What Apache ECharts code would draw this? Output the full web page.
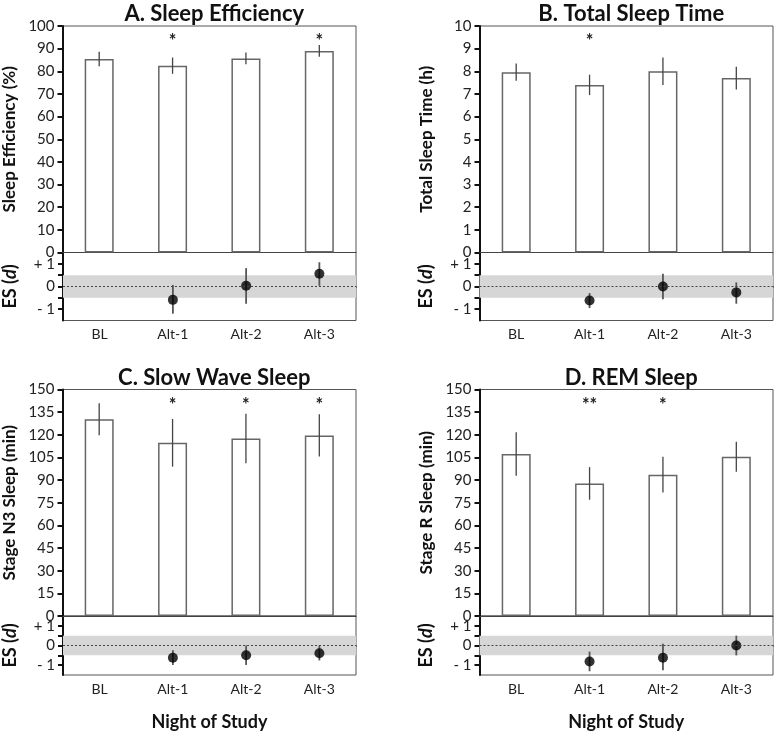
<!DOCTYPE html>
<html><head><meta charset="utf-8">
<script src="https://cdn.jsdelivr.net/npm/echarts@6/dist/echarts.min.js"></script>
<style>html,body{margin:0;padding:0;background:#fff;}#c{width:775px;height:732px;}</style>
</head><body><div id="c"></div>
<script>
const categories = ['BL', 'Alt-1', 'Alt-2', 'Alt-3'];

const titles = ['A. Sleep Efficiency', 'B. Total Sleep Time', 'C. Slow Wave Sleep', 'D. REM Sleep'];
const yTitles = ['Sleep Efficiency (%)', 'Total Sleep Time (h)', 'Stage N3 Sleep (min)', 'Stage R Sleep (min)'];
const yMax = [100, 10, 150, 150];
const yStep = [10, 1, 15, 15];

// means and error (half-length) of bars
const meanA = [85.4, 82.5, 85.7, 89.0];
const errA  = [3.2, 3.6, 2.6, 2.6];
const meanB = [7.96, 7.40, 8.00, 7.70];
const errB  = [0.38, 0.45, 0.61, 0.50];
const meanC = [130.3, 114.7, 117.6, 119.6];
const errC  = [10.6, 15.8, 16.4, 14.0];
const meanD = [107.3, 87.8, 93.6, 105.5];
const errD  = [14.4, 10.8, 11.8, 9.9];

// significance markers
const sigA = ['', '*', '', '*'];
const sigB = ['', '*', '', ''];
const sigC = ['', '*', '*', '*'];
const sigD = ['', '**', '*', ''];

// effect sizes (null = none), lower / upper CI ends
const esA = [null, -0.59, 0.03, 0.56];
const esLoA = [null, -1.20, -0.76, 0.03];
const esHiA = [null, 0.07, 0.81, 1.07];
const esB = [null, -0.62, 0.00, -0.26];
const esLoB = [null, -0.95, -0.56, -0.76];
const esHiB = [null, -0.29, 0.56, 0.18];
const esC = [null, -0.62, -0.50, -0.39];
const esLoC = [null, -0.99, -0.99, -0.76];
const esHiC = [null, -0.24, 0.00, 0.00];
const esD = [null, -0.81, -0.62, 0.00];
const esLoD = [null, -1.31, -1.26, -0.50];
const esHiD = [null, -0.31, 0.09, 0.50];

const means = [meanA, meanB, meanC, meanD];
const errs = [errA, errB, errC, errD];
const sigs = [sigA, sigB, sigC, sigD];
const ess = [esA, esB, esC, esD];
const esLos = [esLoA, esLoB, esLoC, esLoD];
const esHis = [esHiA, esHiB, esHiC, esHiD];

const FONT = 'Lato, "Open Sans", sans-serif';
const lefts = [62.5, 479.5, 62.5, 479.5];
const width = 293.5;
const mainTops = [26, 26, 389.5, 389.5];
const mainH = 226.5;
const esH = 68;

const chart = echarts.init(document.getElementById('c'), null, {renderer: 'canvas'});
const grid = [], xAxis = [], yAxis = [], series = [], title = [];

for (let p = 0; p < 4; p++) {
  const gi = p * 2, ei = p * 2 + 1;
  grid.push({left: lefts[p], top: mainTops[p], width: width, height: mainH, show: true, borderColor: '#555', borderWidth: 1, backgroundColor: 'transparent'});
  grid.push({left: lefts[p], top: mainTops[p] + mainH, width: width, height: esH, show: true, borderColor: '#555', borderWidth: 1, backgroundColor: 'transparent'});
  title.push({text: titles[p], left: lefts[p] + width / 2, top: mainTops[p] - 28, textAlign: 'center',
    textStyle: {fontFamily: FONT, fontWeight: 'bold', fontSize: 22, color: '#111'}});
  xAxis.push({type: 'category', gridIndex: gi, data: categories, axisLine: {show: true, lineStyle: {color: '#444', width: 1.2}},
    axisTick: {show: false}, axisLabel: {show: false}, splitLine: {show: false}});
  xAxis.push({type: 'category', gridIndex: ei, data: categories, axisLine: {show: true, lineStyle: {color: '#111', width: 1.5}},
    axisTick: {show: false}, axisLabel: {show: true, fontFamily: FONT, fontSize: 14, color: '#222', margin: 7},
    name: p >= 2 ? 'Night of Study' : '', nameLocation: 'middle', nameGap: 38,
    nameTextStyle: {fontFamily: FONT, fontWeight: 'bold', fontSize: 18, color: '#111'}});
  yAxis.push({type: 'value', gridIndex: gi, min: 0, max: yMax[p], interval: yStep[p],
    axisLine: {show: true, lineStyle: {color: '#111', width: 2}},
    axisTick: {show: true, length: 5, lineStyle: {color: '#111', width: 2}},
    axisLabel: {fontFamily: FONT, fontSize: 15, color: '#222', margin: 8},
    splitLine: {show: false},
    name: yTitles[p], nameLocation: 'middle', nameGap: 44, nameRotate: 90,
    nameTextStyle: {fontFamily: FONT, fontWeight: 'bold', fontSize: 17, color: '#111'}});
  yAxis.push({type: 'value', gridIndex: ei, min: -1.5, max: 1.5, interval: 0.5,
    axisLine: {show: true, lineStyle: {color: '#111', width: 2}},
    axisTick: {show: true, length: 5, lineStyle: {color: '#111', width: 2}},
    axisLabel: {fontFamily: FONT, fontSize: 15, color: '#222', margin: 8,
      showMinLabel: false, showMaxLabel: false,
      formatter: v => v === 1 ? '+ 1' : v === -1 ? '- 1' : v === 0 ? '0' : ''},
    splitLine: {show: false},
    name: 'ES ({i|d})', nameLocation: 'middle', nameGap: 44, nameRotate: 90,
    nameTextStyle: {fontFamily: FONT, fontWeight: 'bold', fontSize: 18, color: '#111',
      rich: {i: {fontFamily: FONT, fontWeight: 'bold', fontStyle: 'italic', fontSize: 18, color: '#111'}}}});

  // bars
  series.push({type: 'bar', xAxisIndex: gi, yAxisIndex: gi, data: means[p], barWidth: 29,
    itemStyle: {color: '#fff', borderColor: '#666', borderWidth: 1.5}, z: 2, silent: true});
  // error bars
  const ebData = means[p].map((m, i) => [i, m - errs[p][i], m + errs[p][i]]);
  series.push({type: 'custom', xAxisIndex: gi, yAxisIndex: gi, data: ebData, z: 3, silent: true,
    renderItem: (params, api) => {
      const a = api.coord([api.value(0), api.value(1)]);
      const b = api.coord([api.value(0), api.value(2)]);
      return {type: 'line', shape: {x1: a[0], y1: a[1], x2: b[0], y2: b[1]}, style: {stroke: '#444', lineWidth: 1.3}};
    }});
  // significance markers
  const sigData = sigs[p].map((s, i) => [i, yMax[p] * 0.95, s]);
  series.push({type: 'custom', xAxisIndex: gi, yAxisIndex: gi, data: sigData, z: 4, silent: true,
    renderItem: (params, api) => {
      const c = api.coord([api.value(0), api.value(1)]);
      return {type: 'text', style: {x: c[0], y: c[1] + 4, text: sigs[p][params.dataIndex], align: 'center', verticalAlign: 'middle',
        font: 'bold 18px ' + FONT, fill: '#222'}};
    }});
  // ES band + zero line (carrier)
  series.push({type: 'line', xAxisIndex: ei, yAxisIndex: ei, data: [], silent: true,
    markArea: {silent: true, itemStyle: {color: '#d6d6d6'}, data: [[{yAxis: -0.5}, {yAxis: 0.5}]]},
    markLine: {silent: true, symbol: 'none', label: {show: false}, lineStyle: {color: '#444', type: [2, 2], width: 1},
      data: [{yAxis: 0}]}});
  // ES error bars
  const esEb = ess[p].map((v, i) => v === null ? null : [i, esLos[p][i], esHis[p][i]]).filter(d => d);
  series.push({type: 'custom', xAxisIndex: ei, yAxisIndex: ei, data: esEb, z: 3, silent: true,
    renderItem: (params, api) => {
      const a = api.coord([api.value(0), api.value(1)]);
      const b = api.coord([api.value(0), api.value(2)]);
      return {type: 'line', shape: {x1: a[0], y1: a[1], x2: b[0], y2: b[1]}, style: {stroke: '#555', lineWidth: 1.8}};
    }});
  // ES points
  series.push({type: 'scatter', xAxisIndex: ei, yAxisIndex: ei, data: ess[p].map((v, i) => v === null ? null : [i, v]).filter(d => d),
    symbol: 'circle', symbolSize: 10, itemStyle: {color: '#000'}, z: 4, silent: true});
}

chart.setOption({animation: false, backgroundColor: '#fff', title, grid, xAxis, yAxis, series});
</script></body></html>
